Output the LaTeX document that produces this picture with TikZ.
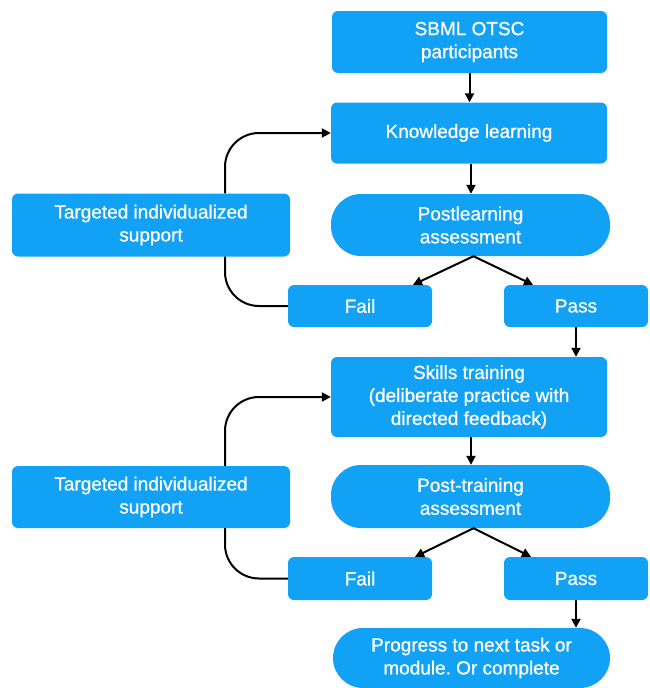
\documentclass[tikz,border=0pt]{standalone}
\usepackage{fontspec}
\setmainfont{Liberation Sans}[BoldFont=Liberation Sans, BoldFeatures={FakeBold=0.9}]
\usetikzlibrary{arrows.meta}
\definecolor{boxblue}{RGB}{18,162,245}
\frenchspacing
\begin{document}
\begin{tikzpicture}[x=1pt,y=-1pt,
  box/.style={fill=boxblue, text=white, rounded corners=6pt, align=center, inner sep=0pt,
    font=\fontsize{19}{23}\selectfont\bfseries},
  pill/.style={box, rounded corners=30pt},
  arr/.style={-{Triangle[length=9pt,width=9pt]}, line width=2pt, black},
  plainline/.style={line width=2pt, black, rounded corners=34pt},
  retarr/.style={arr, rounded corners=34pt}]
\useasboundingbox (0,0) rectangle (650,688);

\node[box, minimum width=275pt, minimum height=62pt] (n1) at (469.5,42) {SBML OTSC\\participants};
\node[box, minimum width=276pt, minimum height=61pt] (kl) at (469,133) {Knowledge learning};
\node[pill, minimum width=279pt, minimum height=62pt] (pl) at (470.5,225) {Postlearning\\assessment};
\node[box, minimum width=278pt, minimum height=63pt] (tg1) at (151,225) {Targeted individualized\\support};
\node[box, minimum width=144pt, minimum height=42pt] (f1) at (360,306) {Fail};
\node[box, minimum width=144pt, minimum height=42pt] (p1) at (576,306) {Pass};
\node[box, minimum width=276pt, minimum height=80pt] (sk) at (469,397) {Skills training\\(deliberate practice with\\directed feedback)};
\node[pill, minimum width=279pt, minimum height=63pt] (pt) at (470.5,496.5) {Post-training\\assessment};
\node[box, minimum width=278pt, minimum height=62pt] (tg2) at (151,497) {Targeted individualized\\support};
\node[box, minimum width=144pt, minimum height=43pt] (f2) at (360,578.5) {Fail};
\node[box, minimum width=144pt, minimum height=43pt] (p2) at (576,578.5) {Pass};
\node[pill, minimum width=277pt, minimum height=60pt] (pr) at (471.5,658) {Progress to next task or\\module. Or complete};

\draw[arr] (n1.south) -- (n1.south |- kl.north);
\draw[arr] ([xshift=2pt]kl.south) -- ([xshift=2pt]kl.south |- pl.north);
\draw[arr] ([xshift=3pt]pl.south) -- ([xshift=53pt]f1.north);
\draw[arr] ([xshift=3pt]pl.south) -- ([xshift=-43pt]p1.north);
\draw[arr] (p1.south) -- (p1.south |- sk.north);
\draw[plainline] (f1.west) -| ([xshift=74pt]tg1.south);
\draw[retarr] ([xshift=74pt]tg1.north) |- (kl.west);

\draw[arr] ([xshift=2pt]sk.south) -- ([xshift=2pt]sk.south |- pt.north);
\draw[arr] ([xshift=3pt]pt.south) -- ([xshift=55pt]f2.north);
\draw[arr] ([xshift=3pt]pt.south) -- ([xshift=-45pt]p2.north);
\draw[arr] (p2.south) -- (p2.south |- pr.north);
\draw[plainline] (f2.west) -| ([xshift=74pt]tg2.south);
\draw[retarr] ([xshift=74pt]tg2.north) |- (sk.west);
\end{tikzpicture}
\end{document}
